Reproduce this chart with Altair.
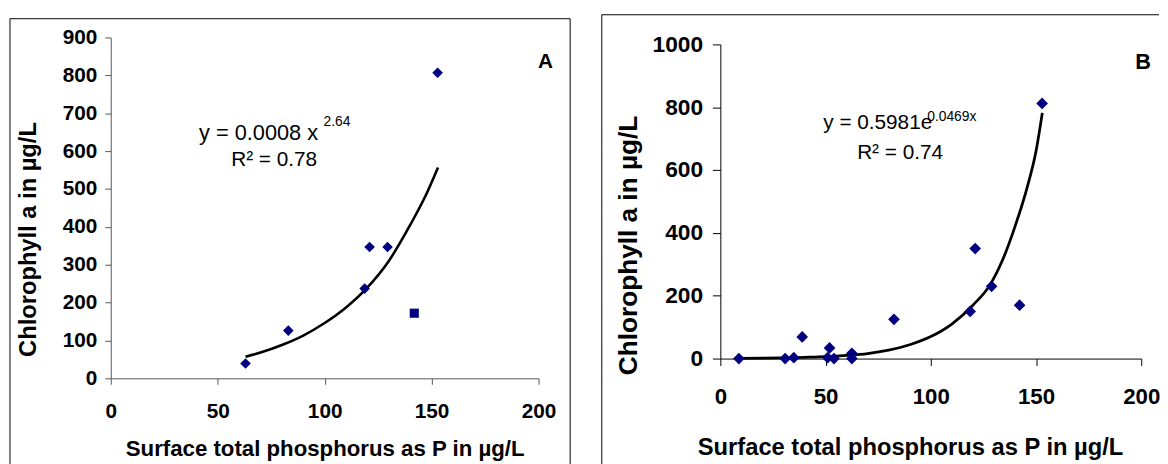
import altair as alt
import pandas as pd

FONT = "Liberation Sans"
NAVY = "#000080"

# ---------------- Panel A data ----------------
a_x = [63, 83, 118.7, 121, 129.4, 152.8]
a_y = [39, 126, 237, 347, 347, 807]
a_sq_x = [141.9]
a_sq_y = [172]
a_fit_x = [63, 70, 80, 90, 100, 110, 120, 130, 140, 147, 153]
a_fit_y = [57, 68, 88, 113, 146, 187, 240, 310, 405, 480, 557]
a_eq_x = [41.3]
a_eq_y = [647]
a_eq_text = ["y = 0.0008 x"]
a_sup_x = [99.5]
a_sup_y = [676]
a_sup_text = ["2.64"]
a_r2_x = [56.3]
a_r2_y = [576]
a_r2_text = ["R\u00b2 = 0.78"]

# ---------------- Panel B data ----------------
b_x = [8.8, 30.8, 34.9, 38.9, 51.9, 51, 54, 62.5, 62.5, 82.5, 118.7, 121.1, 128.9, 142.2, 152.9]
b_y = [0, 0, 3, 69, 34, 3, 0, 17, 0, 125, 150, 350, 230, 170, 812]
b_fit_x = [9, 20, 30, 40, 50, 60, 70, 80, 90, 100, 110, 120, 128, 134, 140, 146, 150, 153]
b_fit_y = [1, 1.5, 2.5, 4, 6, 10, 16, 27, 44, 70, 110, 170, 233, 312, 420, 550, 660, 782]
b_eq_x = [48.9]
b_eq_y = [751]
b_eq_text = ["y = 0.5981e"]
b_sup_x = [98.3]
b_sup_y = [768]
b_sup_text = ["0.0469x"]
b_r2_x = [65]
b_r2_y = [655]
b_r2_text = ["R\u00b2 = 0.74"]

XTITLE = "Surface total phosphorus as P in \u00b5g/L"
YTITLE = "Chlorophyll a in \u00b5g/L"

one = pd.DataFrame({"k": [0]})


def frame_rule(x1, y1, x2, y2):
    return alt.Chart(one).mark_rule(color="black", strokeWidth=1).encode(
        x=alt.value(x1), x2=alt.value(x2), y=alt.value(y1), y2=alt.value(y2)
    )


def text_layer(xs, ys, texts, size, X, Y):
    df = pd.DataFrame({"x": xs, "y": ys, "t": texts})
    return alt.Chart(df).mark_text(
        align="left", baseline="middle", font=FONT, fontSize=size, color="black"
    ).encode(x=X, y=Y, text="t:N")


# ---------------- Panel A ----------------
axA = dict(grid=False, labelFont=FONT, labelFontWeight="bold", labelColor="black",
           titleFont=FONT, titleFontWeight="bold", titleColor="black",
           domainColor="#555555", tickColor="#555555", labelFlush=False,
           labelOverlap=False, format="d")
XA = alt.X("x:Q", scale=alt.Scale(domain=[0, 200], nice=False),
           axis=alt.Axis(values=[0, 50, 100, 150, 200], title=XTITLE,
                         tickSize=6, labelPadding=17, labelFontSize=21,
                         titleFontSize=22.5, titlePadding=16, **axA))
YA = alt.Y("y:Q", scale=alt.Scale(domain=[0, 900], nice=False),
           axis=alt.Axis(values=list(range(0, 901, 100)), title=YTITLE,
                         tickSize=6, labelPadding=8, labelFontSize=21,
                         titleFontSize=24, titlePadding=22, titleY=204, **axA))

ptsA = alt.Chart(pd.DataFrame({"x": a_x, "y": a_y})).mark_point(
    shape="diamond", filled=True, color=NAVY, size=115, opacity=1).encode(x=XA, y=YA)
sqA = alt.Chart(pd.DataFrame({"x": a_sq_x, "y": a_sq_y})).mark_point(
    shape="square", filled=True, color=NAVY, size=85, opacity=1).encode(x=XA, y=YA)
fitA = alt.Chart(pd.DataFrame({"x": a_fit_x, "y": a_fit_y})).mark_line(
    color="black", strokeWidth=2.6, interpolate="monotone").encode(x=XA, y=YA)
eqA = text_layer(a_eq_x, a_eq_y, a_eq_text, 22, XA, YA)
supA = text_layer(a_sup_x, a_sup_y, a_sup_text, 14, XA, YA)
r2A = text_layer(a_r2_x, a_r2_y, a_r2_text, 21, XA, YA)
letterA = alt.Chart(one).mark_text(font=FONT, fontSize=21, fontWeight="bold", color="black").encode(
    x=alt.value(440), y=alt.value(25), text=alt.value("A")
)

panelA = alt.layer(
    frame_rule(-102, -19, 465, -19),
    frame_rule(-102, -19, -102, 440),
    frame_rule(465, -19, 465, 440),
    fitA, ptsA, sqA, eqA, supA, r2A, letterA,
).properties(width=433, height=345)

# ---------------- Panel B ----------------
axB = dict(grid=False, labelFont=FONT, labelFontWeight="bold", labelColor="black",
           titleFont=FONT, titleFontWeight="bold", titleColor="black",
           domainColor="black", tickColor="black", labelFlush=False,
           labelOverlap=False, format="d")
XB = alt.X("x:Q", scale=alt.Scale(domain=[0, 200], nice=False),
           axis=alt.Axis(values=[0, 50, 100, 150, 200], title=XTITLE,
                         tickSize=7, labelPadding=20, labelFontSize=22.5,
                         titleFontSize=24, titlePadding=29, titleX=192, **axB))
YB = alt.Y("y:Q", scale=alt.Scale(domain=[0, 1000], nice=False, range=[325, 7]),
           axis=alt.Axis(values=list(range(0, 1001, 200)), title=YTITLE,
                         tickSize=8, labelPadding=10, labelFontSize=23,
                         titleFontSize=26.5, titlePadding=10, titleY=210, **axB))

ptsB = alt.Chart(pd.DataFrame({"x": b_x, "y": b_y})).mark_point(
    shape="diamond", filled=True, color=NAVY, size=140, opacity=1).encode(x=XB, y=YB)
fitB = alt.Chart(pd.DataFrame({"x": b_fit_x, "y": b_fit_y})).mark_line(
    color="black", strokeWidth=2.8, interpolate="monotone").encode(x=XB, y=YB)
eqB = text_layer(b_eq_x, b_eq_y, b_eq_text, 21, XB, YB)
supB = text_layer(b_sup_x, b_sup_y, b_sup_text, 14, XB, YB)
r2B = text_layer(b_r2_x, b_r2_y, b_r2_text, 21, XB, YB)
letterB = alt.Chart(one).mark_text(font=FONT, fontSize=22, fontWeight="bold", color="black").encode(
    x=alt.value(428), y=alt.value(25), text=alt.value("B")
)

panelB = alt.layer(
    frame_rule(-120, -23, 444, -23),
    frame_rule(-120, -23, -120, 440),
    fitB, ptsB, eqB, supB, r2B, letterB,
).properties(width=426, height=325)

chart = alt.hconcat(panelA, panelB, spacing=30).properties(
    padding={"left": 1, "top": 3, "right": 0, "bottom": 0},
    background="white",
).configure_view(stroke=None)

chart.save("out.html", embed_options={"renderer": "svg", "actions": False})
